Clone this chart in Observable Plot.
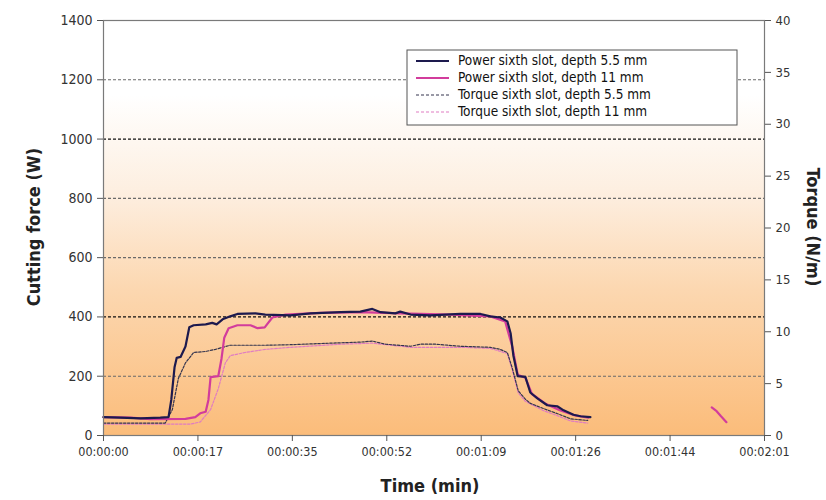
<!DOCTYPE html>
<html>
<head>
<meta charset="utf-8">
<script src="https://cdn.jsdelivr.net/npm/d3@7"></script>
<script src="https://cdn.jsdelivr.net/npm/@observablehq/plot@0.6"></script>
<style>
  html, body { margin: 0; padding: 0; background: #fff; }
  #chart { width: 826px; height: 500px; }
  #chart svg text { font-stretch: condensed; }
</style>
</head>
<body>
<div id="chart"></div>
<script>
// ---------- data (time in seconds) ----------
const xTickValues = [0, 17.28, 34.56, 51.84, 69.12, 86.4, 103.68, 120.96];
const xTickLabels = ["00:00:00", "00:00:17", "00:00:35", "00:00:52", "00:01:09", "00:01:26", "00:01:44", "00:02:01"];
const forceTicks = [0, 200, 400, 600, 800, 1000, 1200, 1400];
const torqueTicks = [0, 5, 10, 15, 20, 25, 30, 35, 40];
const gridDark = [400, 1000];
const gridGray = [200, 600, 800, 1200];

const seriesNames = [
  "Power sixth slot, depth 5.5 mm",
  "Power sixth slot, depth 11 mm",
  "Torque sixth slot, depth 5.5 mm",
  "Torque sixth slot, depth 11 mm"
];

// Power, depth 5.5 mm (W)
const power55T = [0, 3.1, 6.8, 10.4, 11.9, 12.4, 13.0, 13.4, 14.1, 15.0, 15.7, 16.5, 18.7, 19.9, 20.7, 21.8, 23.2, 24.5, 27.8, 29.6, 34.2, 37.9, 43.4, 47.0, 49.2, 50.7, 53.4, 54.3, 56.2, 59.8, 65.3, 69.0, 70.8, 72.6, 73.9, 74.5, 75.0, 75.8, 77.2, 78.1, 79.4, 81.2, 83.1, 84.2, 86.0, 87.3, 89.1];
const power55V = [62, 60, 58, 60, 62, 120, 230, 262, 265, 300, 365, 372, 375, 380, 375, 392, 402, 410, 412, 408, 405, 412, 416, 418, 427, 416, 412, 418, 408, 405, 410, 410, 402, 398, 385, 345, 270, 200, 198, 145, 125, 102, 98, 85, 70, 65, 62];

// Power, depth 11 mm (W)
const power11T = [0, 4.9, 8.6, 15.0, 16.8, 17.7, 18.7, 19.2, 19.6, 21.0, 21.6, 22.1, 22.9, 24.5, 26.9, 28.2, 29.5, 30.9, 33.3, 36.0, 39.7, 47.0, 54.3, 63.5, 70.8, 73.5, 74.8, 75.8, 77.2, 78.4, 80.8, 83.5, 86.3, 88.7];
const power11V = [62, 60, 55, 56, 62, 75, 80, 120, 197, 200, 260, 330, 362, 372, 372, 362, 365, 398, 408, 410, 414, 416, 412, 408, 402, 385, 300, 205, 195, 140, 108, 85, 68, 60];
const power11LateT = [111.3, 112.2, 113.0, 114.0];
const power11LateV = [95, 82, 65, 45];

// Torque, depth 5.5 mm (N/m)
const torque55T = [0, 11.3, 12.6, 13.7, 15.0, 16.5, 18.7, 20.5, 23.2, 29.6, 34.2, 41.5, 47.0, 49.2, 51.6, 56.2, 58.0, 60.8, 65.3, 70.8, 72.6, 73.9, 74.8, 75.9, 77.2, 78.1, 80.5, 83.1, 85.5, 88.6];
const torque55V = [1.2, 1.2, 2.5, 5.5, 7.0, 8.0, 8.1, 8.3, 8.7, 8.7, 8.75, 8.9, 9.0, 9.1, 8.8, 8.6, 8.8, 8.8, 8.6, 8.5, 8.3, 8.0, 6.5, 4.3, 3.5, 3.1, 2.6, 2.1, 1.6, 1.45];

// Torque, depth 11 mm (N/m)
const torque11T = [0, 15.9, 17.7, 19.6, 21.0, 22.3, 23.2, 25.9, 29.6, 34.2, 43.4, 49.2, 56.2, 65.3, 70.8, 73.9, 74.8, 75.9, 77.2, 80.5, 83.1, 85.5, 88.6];
const torque11V = [1.1, 1.1, 1.3, 2.5, 4.5, 7.0, 7.7, 8.0, 8.3, 8.5, 8.8, 8.9, 8.5, 8.5, 8.4, 7.9, 6.3, 4.1, 3.3, 2.4, 1.9, 1.4, 1.2];

const colors = ["#1d1a4e", "#d23c9c", "#34344e", "#e07cc2"];
const TORQUE_FACTOR = 1400 / 40; // right axis maps 0–40 onto 0–1400

const zip = (ts, vs) => ts.map((t, i) => ({t, v: vs[i]}));
const p55 = zip(power55T, power55V);
const p11 = zip(power11T, power11V);
const p11b = zip(power11LateT, power11LateV);
const q55 = zip(torque55T, torque55V);
const q11 = zip(torque11T, torque11V);

const FONT = "'DejaVu Sans', sans-serif";

const plot = Plot.plot({
  width: 826,
  height: 500,
  marginLeft: 103,
  marginRight: 62,
  marginTop: 20,
  marginBottom: 65,
  style: {fontFamily: FONT, fontSize: "13px", color: "#333", background: "transparent"},
  x: {domain: [0, 120.96]},
  y: {domain: [0, 1400]},
  marks: [
    Plot.frame({fill: "url(#bg)", stroke: "none"}),
    Plot.ruleY(gridGray, {stroke: "#6a6a6a", strokeWidth: 1.1, strokeDasharray: "3,2"}),
    Plot.ruleY(gridDark, {stroke: "#111", strokeWidth: 1.3, strokeDasharray: "3,2"}),
    Plot.line(q11, {x: "t", y: d => d.v * TORQUE_FACTOR, stroke: colors[3], strokeWidth: 1.2, strokeDasharray: "2.5,1.5"}),
    Plot.line(q55, {x: "t", y: d => d.v * TORQUE_FACTOR, stroke: colors[2], strokeWidth: 1.2, strokeDasharray: "2.5,1.5"}),
    Plot.line(p11, {x: "t", y: "v", stroke: colors[1], strokeWidth: 2.2}),
    Plot.line(p11b, {x: "t", y: "v", stroke: colors[1], strokeWidth: 2.2}),
    Plot.line(p55, {x: "t", y: "v", stroke: colors[0], strokeWidth: 2.2}),
    Plot.frame({stroke: "#7a7a7a", strokeWidth: 1.2}),
    Plot.axisY(forceTicks, {anchor: "left", label: null, tickSize: 6, tickPadding: 5, stroke: "#555", fontSize: 14,
      tickFormat: d => String(d)}),
    Plot.axisY(torqueTicks.map(v => v * TORQUE_FACTOR), {anchor: "right", label: null, tickSize: 6, tickPadding: 5, stroke: "#555", fontSize: 13,
      tickFormat: d => String(Math.round(d / TORQUE_FACTOR))}),
    Plot.axisX(xTickValues, {anchor: "bottom", label: null, tickSize: 6, tickPadding: 6, stroke: "#555", fontSize: 12.5,
      tickFormat: d => xTickLabels[xTickValues.indexOf(d)]})
  ]
});

document.getElementById("chart").appendChild(plot);

// gradient background
const svg = d3.select(plot);
const defs = svg.insert("defs", ":first-child");
const grad = defs.append("linearGradient").attr("id", "bg").attr("x1", 0).attr("y1", 0).attr("x2", 0).attr("y2", 1);
[[0, "#ffffff"], [0.18, "#ffffff"], [0.42, "#fdeedf"], [0.65, "#fcd7b0"], [1, "#fbbc7a"]].forEach(([o, c]) =>
  grad.append("stop").attr("offset", o).attr("stop-color", c));

// axis titles
const title = (sel) => sel.attr("text-anchor", "middle")
  .style("font-family", FONT).style("font-weight", "bold").style("font-size", "18px")
  .style("font-stretch", "condensed").attr("fill", "#222");
svg.append("text").attr("transform", "translate(35,227) rotate(-90)")
  .attr("dominant-baseline", "middle").call(title).text("Cutting force (W)");
svg.append("text").attr("transform", "translate(812,227) rotate(90)")
  .attr("dominant-baseline", "middle").call(title).text("Torque (N/m)");
svg.append("text").attr("x", 430).attr("y", 492).call(title).text("Time (min)");

// legend
const lg = svg.append("g");
lg.append("rect").attr("x", 407).attr("y", 50).attr("width", 330).attr("height", 75)
  .attr("fill", "#fff").attr("stroke", "#555").attr("stroke-width", 1);
const rowsY = [61, 78, 95, 112];
const dashes = [null, null, "3,2", "3,2"];
const widths = [2.2, 2.2, 1.2, 1.2];
seriesNames.forEach((name, i) => {
  const l = lg.append("line").attr("x1", 416).attr("x2", 449).attr("y1", rowsY[i]).attr("y2", rowsY[i])
    .attr("stroke", colors[i]).attr("stroke-width", widths[i]);
  if (dashes[i]) l.attr("stroke-dasharray", dashes[i]);
  lg.append("text").attr("x", 458).attr("y", rowsY[i]).attr("dominant-baseline", "middle")
    .attr("text-anchor", "start")
    .style("font-family", FONT).style("font-size", "13.5px").style("font-stretch", "condensed")
    .attr("fill", "#111").text(name);
});
</script>
</body>
</html>
